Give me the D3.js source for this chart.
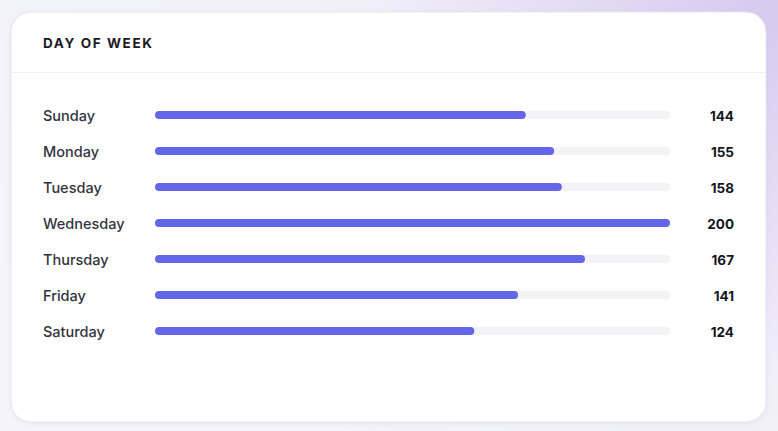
<!DOCTYPE html>
<html>
<head>
<meta charset="utf-8">
<script src="https://cdn.jsdelivr.net/npm/d3@7"></script>
<style>
  html, body { margin: 0; padding: 0; }
  body { width: 778px; height: 431px; overflow: hidden; font-family: Inter, "Noto Sans", sans-serif; }
</style>
</head>
<body>
<script>
var days = ["Sunday", "Monday", "Tuesday", "Wednesday", "Thursday", "Friday", "Saturday"];
var counts = [144, 155, 158, 200, 167, 141, 124];
var title = "DAY OF WEEK";

var W = 778, H = 431;
var card = {x: 11, y: 12, w: 755, h: 410, r: 20};

var svg = d3.select("body").append("svg")
    .attr("width", W)
    .attr("height", H);

// background gradient
var defs = svg.append("defs");
var bg = defs.append("linearGradient")
    .attr("id", "bg")
    .attr("x1", "0%").attr("y1", "60%")
    .attr("x2", "100%").attr("y2", "0%");
bg.append("stop").attr("offset", "0%").attr("stop-color", "#f4f4f9");
bg.append("stop").attr("offset", "60%").attr("stop-color", "#f1f0f9");
bg.append("stop").attr("offset", "100%").attr("stop-color", "#d6c8ef");

var shadow = defs.append("filter").attr("id", "shadow")
    .attr("x", "-5%").attr("y", "-5%").attr("width", "110%").attr("height", "110%");
shadow.append("feDropShadow")
    .attr("dx", 0).attr("dy", 1).attr("stdDeviation", 2)
    .attr("flood-color", "#8a86b0").attr("flood-opacity", 0.12);

svg.append("rect")
    .attr("width", W).attr("height", H)
    .attr("fill", "url(#bg)");

// card
svg.append("rect")
    .attr("x", card.x).attr("y", card.y)
    .attr("width", card.w).attr("height", card.h)
    .attr("rx", card.r)
    .attr("fill", "#ffffff")
    .attr("stroke", "#e6e5ef")
    .attr("stroke-width", 1)
    .attr("filter", "url(#shadow)");

// header
svg.append("text")
    .attr("x", 43).attr("y", 48)
    .attr("font-size", 13.5)
    .attr("font-weight", 700)
    .attr("letter-spacing", 1.6)
    .attr("fill", "#1b1b26")
    .text(title);

svg.append("line")
    .attr("x1", card.x + 0.5).attr("x2", card.x + card.w - 0.5)
    .attr("y1", 72.5).attr("y2", 72.5)
    .attr("stroke", "#f0eff4");

// scales
var x = d3.scaleLinear()
    .domain([0, d3.max(counts)])
    .range([155, 670]);

var y = d3.scaleBand()
    .domain(days)
    .range([97, 349])
    .padding(0);

var barH = 8;

var rows = svg.append("g").selectAll("g")
    .data(days)
    .enter().append("g")
    .attr("transform", function(d) { return "translate(0," + (y(d) + y.bandwidth() / 2) + ")"; });

rows.append("text")
    .attr("x", 43)
    .attr("y", 1)
    .attr("dy", "0.35em")
    .attr("font-size", 14.5)
    .attr("font-weight", 500)
    .attr("fill", "#33333d")
    .text(function(d) { return d; });

// track
rows.append("rect")
    .attr("x", x(0))
    .attr("y", -barH / 2)
    .attr("width", x(200) - x(0))
    .attr("height", barH)
    .attr("rx", barH / 2)
    .attr("fill", "#f3f3f5");

// value bar
rows.append("rect")
    .attr("x", x(0))
    .attr("y", -barH / 2)
    .attr("width", function(d, i) { return x(counts[i]) - x(0); })
    .attr("height", barH)
    .attr("rx", barH / 2)
    .attr("fill", "#6366e6");

rows.append("text")
    .attr("x", 734)
    .attr("y", 1)
    .attr("dy", "0.35em")
    .attr("text-anchor", "end")
    .attr("font-size", 13.5)
    .attr("font-weight", 700)
    .attr("fill", "#15151f")
    .text(function(d, i) { return counts[i]; });
</script>
</body>
</html>
